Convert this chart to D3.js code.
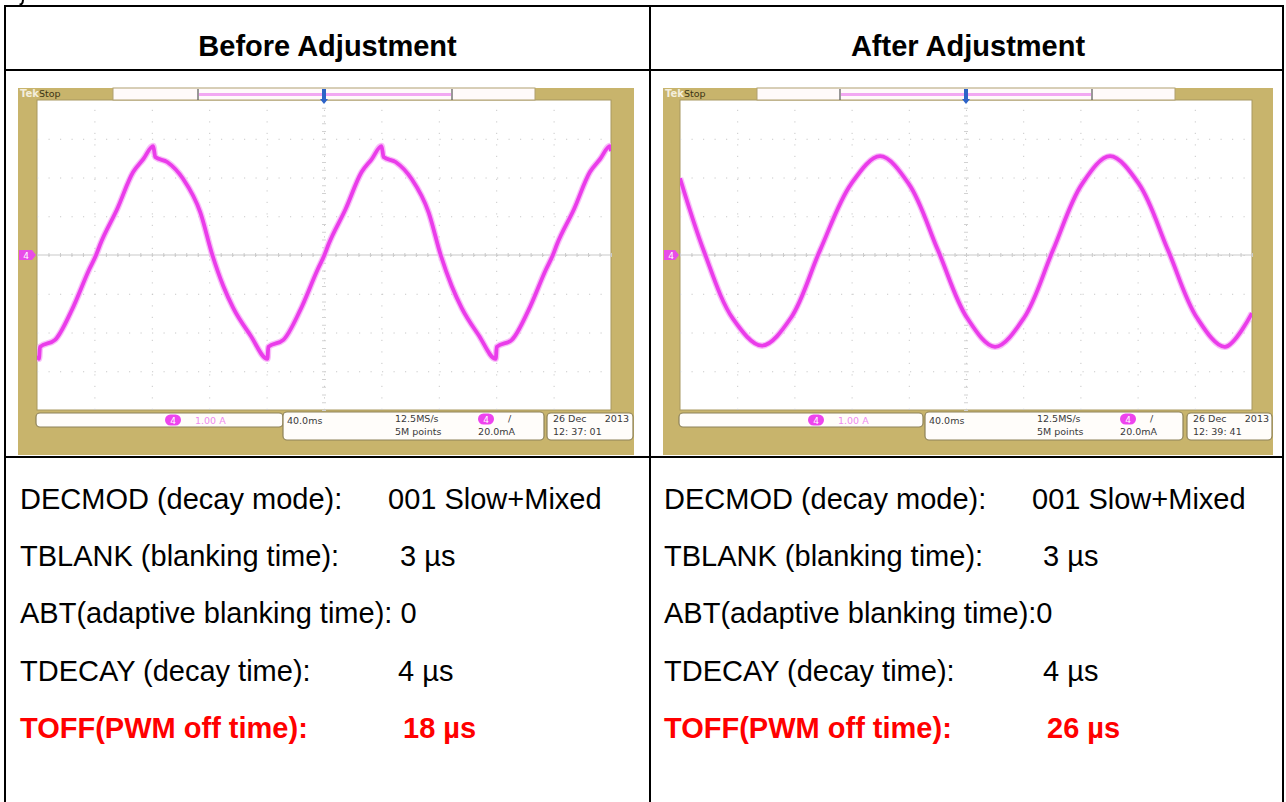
<!DOCTYPE html>
<html><head><meta charset="utf-8">
<script src="https://cdn.jsdelivr.net/npm/d3@7"></script>
<style>
body{margin:0;background:#fff;}
svg{display:block;}
</style></head>
<body><svg id="c" width="1286" height="802"></svg>
<script>
// ---------- data ----------
const columnTitles = ["Before Adjustment", "After Adjustment"];
const settingLabels = ["DECMOD (decay mode):", "TBLANK (blanking time):", "ABT(adaptive blanking time):", "TDECAY (decay time):", "TOFF(PWM off time):"];
const beforeValues = ["001 Slow+Mixed", "3 µs", "0", "4 µs", "18 µs"];
const afterValues  = ["001 Slow+Mixed", "3 µs", "0", "4 µs", "26 µs"];
const scopeClock = ["12: 37: 01", "12: 39: 41"];
const scopeDate = ["26 Dec", "2013"];
const scopeReadouts = ["40.0ms", "12.5MS/s", "5M points", "20.0mA", "1.00 A", "4"];
// time axis (ms, 40 ms/div) and current axis (A, 1 A/div)
const timeTicks = [0, 40, 80, 120, 160, 200, 240, 280, 320, 360, 400];
const currentTicks = [-4, -3, -2, -1, 0, 1, 2, 3, 4];
// Before adjustment trace: time (ms) / current (A)
const beforeTime = [0,1.4,2.1,12.6,24.4,36.3,41.2,44.0,55.8,67.0,74.0,81.0,82.4,90.7,101.9,113.8,122.2,129.8,136.8,148.7,160.6,161.2,171.7,183.6,195.5,200.3,203.1,215.0,226.2,233.2,240.1,241.5,249.9,261.1,272.9,281.3,289.0,296.0,307.8,319.7,320.4,330.9,342.7,354.6,359.5,362.3,374.2,385.3,392.3,399.3,400];
const beforeCurrent = [-2.60,-2.68,-2.37,-2.19,-1.41,-0.38,0,0.27,1.18,2.14,2.47,2.81,2.53,2.40,1.96,1.10,0,-0.80,-1.37,-2.07,-2.68,-2.37,-2.19,-1.41,-0.38,0,0.27,1.18,2.14,2.47,2.81,2.53,2.40,1.96,1.10,0,-0.80,-1.37,-2.07,-2.68,-2.37,-2.19,-1.41,-0.38,0,0.27,1.18,2.14,2.47,2.81,2.68];
// After adjustment trace
const afterTime = [0,16.8,37.1,57.3,77.6,97.9,119.6,139.9,160.1,180.4,200.7,220.3,240.6,260.8,281.1,300.7,321.0,341.3,361.5,381.1,400];
const afterCurrent = [1.98,0.09,-1.65,-2.34,-1.62,0.12,1.83,2.55,1.83,0.12,-1.62,-2.37,-1.62,0.12,1.83,2.55,1.83,0.12,-1.62,-2.37,-1.50];

// ---------- layout ----------
const svg = d3.select("#c");
const FONT = "'Liberation Sans', Arial, sans-serif";
const SMALL = "'DejaVu Sans', Verdana, sans-serif";
const OLIVE = "#c8b46c";

// descender of a heading glyph cut off by the top edge
svg.append("path").attr("d", "M22,0 L24,0 L23.5,3 Q22.5,5.5 19.5,5.5 L19.5,3.6 Q21,3.6 21.6,2.2 Z").attr("fill", "#000");

// table lines
const T = {l:5, r:1283, t:6, h1:70, h2:457, mid:650, b:830};
const tg = svg.append("g").attr("stroke", "#000").attr("stroke-width", 2).attr("fill", "none");
tg.append("rect").attr("x", T.l).attr("y", T.t).attr("width", T.r - T.l).attr("height", T.b - T.t);
tg.append("line").attr("x1", T.mid).attr("x2", T.mid).attr("y1", T.t).attr("y2", T.b);
tg.append("line").attr("x1", T.l).attr("x2", T.r).attr("y1", T.h1).attr("y2", T.h1);
tg.append("line").attr("x1", T.l).attr("x2", T.r).attr("y1", T.h2).attr("y2", T.h2);

// headers
[327.5, 968].forEach((cx, i) => {
  svg.append("text").attr("x", cx).attr("y", 56).attr("text-anchor", "middle")
    .attr("font-family", FONT).attr("font-weight", "bold").attr("font-size", 29)
    .attr("fill", "#000").text(columnTitles[i]);
});

// settings text
const rowBase = [509, 566, 623, 681, 738];
const cols = [
  {lx: 20, vx: [388, 400, null, 398, 403], vals: beforeValues, abtSep: ": "},
  {lx: 664, vx: [1032, 1043, null, 1043, 1047], vals: afterValues, abtSep: ":"}
];
cols.forEach(c => {
  settingLabels.forEach((lab, i) => {
    const red = i === 4;
    const t = svg.append("text").attr("x", c.lx).attr("y", rowBase[i])
      .attr("font-family", FONT).attr("font-size", 29)
      .attr("font-weight", red ? "bold" : "normal").attr("fill", red ? "#ff0000" : "#000");
    if (i === 2) {
      t.text(lab.replace(/:$/, "") + c.abtSep + c.vals[i]);
    } else {
      t.text(lab);
      svg.append("text").attr("x", c.vx[i]).attr("y", rowBase[i])
        .attr("font-family", FONT).attr("font-size", 29)
        .attr("font-weight", red ? "bold" : "normal").attr("fill", red ? "#ff0000" : "#000")
        .text(c.vals[i]);
    }
  });
});

// ---------- oscilloscope screens ----------
const scopes = [
  {x0:18, x1:634, gx0:37, gx1:611, top:[113,198,452,535], b1:[36,283], b2:[283,544], b3:[547,633],
   t:beforeTime, v:beforeCurrent, curve:d3.curveMonotoneX, clock:scopeClock[0]},
  {x0:663, x1:1273, gx0:680, gx1:1252, top:[757,840,1092,1175], b1:[679,923], b2:[925,1183], b3:[1187,1272],
   t:afterTime, v:afterCurrent, curve:d3.curveCatmullRom, clock:scopeClock[1]}
];
const Y0 = 88, YT = 100, GY1 = 410, YB = 455;

scopes.forEach(s => {
  const g = svg.append("g");
  g.append("rect").attr("x", s.x0).attr("y", Y0).attr("width", s.x1 - s.x0).attr("height", YB - Y0).attr("fill", OLIVE);
  g.append("rect").attr("x", s.gx0).attr("y", YT).attr("width", s.gx1 - s.gx0).attr("height", GY1 - YT)
    .attr("fill", "#fff").attr("stroke", "#a89860").attr("stroke-width", 1);

  const xs = d3.scaleLinear().domain([0, 400]).range([s.gx0, s.gx1]);
  const ys = d3.scaleLinear().domain([-4, 4]).range([GY1, YT]);

  const gridX = g.append("g").attr("transform", `translate(0,${GY1})`)
    .call(d3.axisBottom(xs).tickValues(timeTicks.slice(1, -1)).tickSize(-(GY1 - YT)).tickFormat(""));
  const gridY = g.append("g").attr("transform", `translate(${s.gx0},0)`)
    .call(d3.axisLeft(ys).tickValues(currentTicks.slice(1, -1)).tickSize(-(s.gx1 - s.gx0)).tickFormat(""));
  [gridX, gridY].forEach(a => {
    a.select(".domain").remove();
    a.selectAll("line").attr("stroke", "#c8c8c8").attr("stroke-dasharray", "1.2,10.3");
  });
  g.append("line").attr("x1", s.gx0).attr("x2", s.gx1).attr("y1", ys(0)).attr("y2", ys(0))
    .attr("stroke", "#cacaca").attr("stroke-width", 1.2);
  const minorX = d3.range(0, 401, 8);
  g.append("g").attr("transform", `translate(0,${ys(0) + 2})`)
    .call(d3.axisTop(xs).tickValues(minorX).tickSize(4).tickFormat(""))
    .call(a => { a.select(".domain").remove(); a.selectAll("line").attr("stroke", "#cacaca"); });
  const minorY = d3.range(-4, 4.01, 0.2);
  g.append("g").attr("transform", `translate(${xs(200) + 2},0)`)
    .call(d3.axisLeft(ys).tickValues(minorY).tickSize(4).tickFormat(""))
    .call(a => { a.select(".domain").remove(); a.selectAll("line").attr("stroke", "#d2d2d2"); });

  // top bar
  g.append("rect").attr("x", s.top[0]).attr("y", Y0).attr("width", s.top[3] - s.top[0]).attr("height", YT - Y0)
    .attr("fill", "#fffafa").attr("stroke", "#b0a070");
  g.append("line").attr("x1", s.top[1] + 1).attr("x2", s.top[2] - 1).attr("y1", 94.5).attr("y2", 94.5)
    .attr("stroke", "#f2a8f2").attr("stroke-width", 3);
  [s.top[1], s.top[2]].forEach(x => g.append("line").attr("x1", x).attr("x2", x).attr("y1", Y0 + 1).attr("y2", YT)
    .attr("stroke", "#555").attr("stroke-width", 1.2));
  const mx = xs(200);
  g.append("rect").attr("x", mx - 2).attr("y", Y0 + 1).attr("width", 4).attr("height", 10).attr("fill", "#2c63c8");
  g.append("path").attr("d", `M${mx - 4},${YT - 1}L${mx + 4},${YT - 1}L${mx},${YT + 4}Z`).attr("fill", "#2c63c8");
  g.append("text").attr("x", s.x0 + 2).attr("y", 97).attr("font-family", SMALL).attr("font-size", 10)
    .attr("fill", "#f4eedc").attr("font-weight", "bold").text("Tek");
  g.append("text").attr("x", s.x0 + 21).attr("y", 97).attr("font-family", SMALL).attr("font-size", 9.5)
    .attr("fill", "#3c3414").text("Stop");

  // ground marker
  const gy = ys(0);
  g.append("path").attr("d", `M${s.x0 + 1},${gy - 5}L${s.gx0 - 5},${gy - 5}L${s.gx0 - 1},${gy}L${s.gx0 - 5},${gy + 5}L${s.x0 + 1},${gy + 5}Z`)
    .attr("fill", "#e84ce8");
  g.append("text").attr("x", s.x0 + 8).attr("y", gy + 4).attr("text-anchor", "middle").attr("font-family", SMALL)
    .attr("font-size", 9).attr("fill", "#fff").text(scopeReadouts[5]);

  // trace
  const line = d3.line().x((d, i) => xs(s.t[i])).y(d => ys(d)).curve(s.curve);
  const clipId = "clip" + s.x0;
  g.append("clipPath").attr("id", clipId).append("rect").attr("x", s.gx0).attr("y", YT).attr("width", s.gx1 - s.gx0).attr("height", GY1 - YT);
  const tr = g.append("g").attr("clip-path", `url(#${clipId})`);
  tr.append("path").attr("d", line(s.v)).attr("fill", "none").attr("stroke", "#f7b4f7").attr("stroke-width", 6.5).attr("stroke-linejoin", "round").attr("opacity", 0.85);
  tr.append("path").attr("d", line(s.v)).attr("fill", "none").attr("stroke", "#ea3cea").attr("stroke-width", 3.8).attr("stroke-linejoin", "round");

  // bottom readouts
  const box = (x1, x2, y1, y2) => g.append("rect").attr("x", x1).attr("y", y1).attr("width", x2 - x1).attr("height", y2 - y1)
    .attr("rx", 4).attr("fill", "#fffdfa").attr("stroke", "#8e8258").attr("stroke-width", 1.2);
  box(s.b1[0], s.b1[1], 413, 427);
  box(s.b2[0], s.b2[1], 412, 440);
  box(s.b3[0], s.b3[1], 413, 440);
  const badge = (cx, cy) => {
    g.append("rect").attr("x", cx - 8).attr("y", cy - 5.5).attr("width", 16).attr("height", 11).attr("rx", 5.5).attr("fill", "#ee44ee");
    g.append("text").attr("x", cx).attr("y", cy + 3.5).attr("text-anchor", "middle").attr("font-family", SMALL)
      .attr("font-size", 9).attr("fill", "#fff").text(scopeReadouts[5]);
  };
  const st = (x, y, txt, fill, anchor) => g.append("text").attr("x", x).attr("y", y).attr("font-family", SMALL)
    .attr("font-size", 9.5).attr("fill", fill || "#3a3a3a").attr("text-anchor", anchor || "start").text(txt);
  badge(s.b1[0] + 137, 420);
  st(s.b1[0] + 159, 424, scopeReadouts[4], "#f08af0");
  st(s.b2[0] + 4, 424, scopeReadouts[0]);
  st(s.b2[0] + 112, 422, scopeReadouts[1]);
  st(s.b2[0] + 112, 435, scopeReadouts[2]);
  badge(s.b2[0] + 203, 419);
  st(s.b2[0] + 225, 422, "/");
  st(s.b2[0] + 232, 435, scopeReadouts[3], null, "end");
  st(s.b3[0] + 6, 422, scopeDate[0]);
  st(s.b3[0] + 82, 422, scopeDate[1], null, "end");
  st(s.b3[0] + 6, 435, s.clock);
});
</script>
</body></html>
